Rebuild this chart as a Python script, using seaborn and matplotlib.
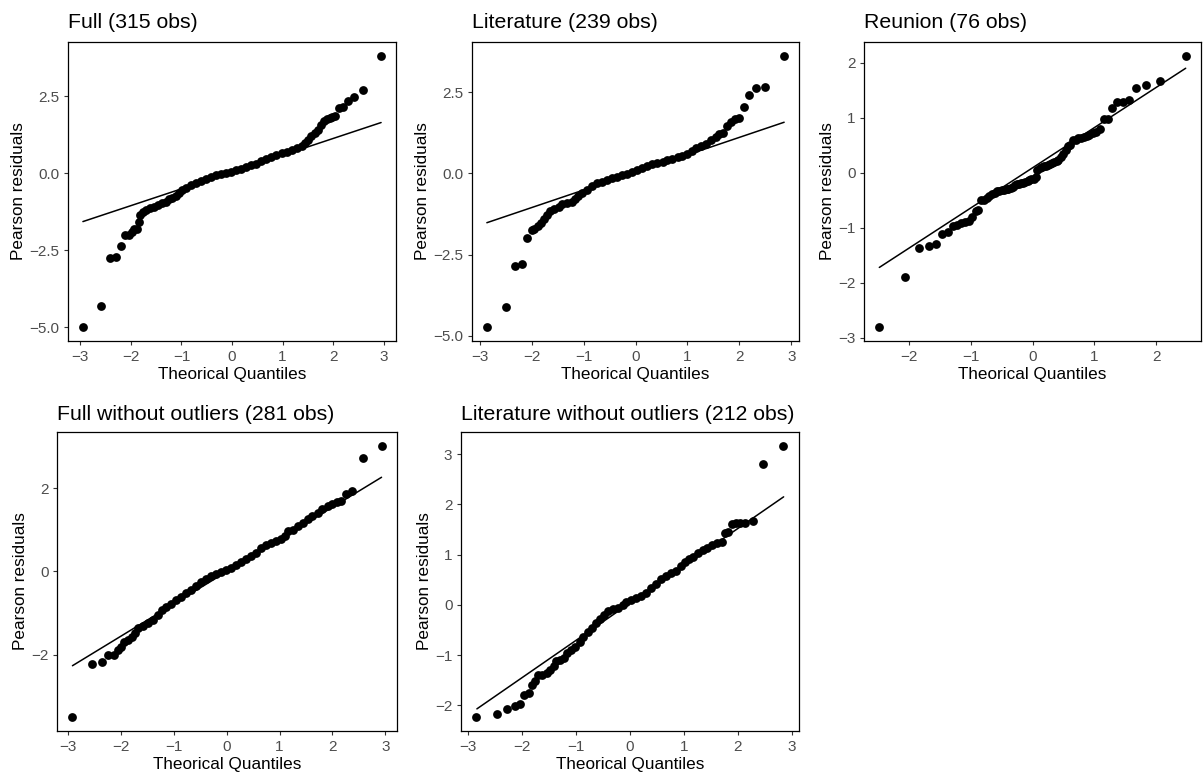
import matplotlib
matplotlib.use("Agg")
import matplotlib.pyplot as plt
import seaborn as sns

# ---------------- data ----------------
titles = ["Full (315 obs)", "Literature (239 obs)", "Reunion (76 obs)",
          "Full without outliers (281 obs)", "Literature without outliers (212 obs)"]
x_label = "Theorical Quantiles"
y_label = "Pearson residuals"

# Full (315 obs): theoretical quantile / Pearson residual
full_q = [-2.95, -2.59, -2.41, -2.29, -2.19, -2.11, -2.04, -1.98, -1.93, -1.88,
          -1.84, -1.82, -1.77, -1.71, -1.63, -1.54, -1.46, -1.38, -1.31, -1.24,
          -1.18, -1.11, -1.04, -0.98, -0.91, -0.81, -0.71, -0.61, -0.51, -0.41,
          -0.31, -0.22, -0.12, -0.02, 0.08, 0.18, 0.28, 0.38, 0.48, 0.58,
          0.68, 0.78, 0.88, 0.98, 1.08, 1.18, 1.28, 1.38, 1.44, 1.51,
          1.57, 1.64, 1.71, 1.76, 1.82, 1.88, 1.93, 1.98, 2.04, 2.11,
          2.19, 2.29, 2.41, 2.59, 2.95]
full_r = [-5.00, -4.32, -2.74, -2.73, -2.35, -2.02, -2.02, -1.92, -1.82, -1.82,
          -1.57, -1.36, -1.26, -1.20, -1.14, -1.09, -1.03, -0.98, -0.92, -0.84,
          -0.80, -0.74, -0.64, -0.55, -0.47, -0.39, -0.31, -0.26, -0.18, -0.12,
          -0.06, -0.03, 0.01, 0.05, 0.11, 0.15, 0.20, 0.25, 0.30, 0.38,
          0.46, 0.53, 0.59, 0.64, 0.68, 0.74, 0.83, 0.89, 0.98, 1.09,
          1.20, 1.30, 1.41, 1.55, 1.69, 1.77, 1.80, 1.82, 1.85, 2.12,
          2.14, 2.34, 2.46, 2.70, 3.81]
full_line_q = [-2.95, 2.95]
full_line_r = [-1.57, 1.64]

# Literature (239 obs)
lit_q = [-2.86, -2.50, -2.31, -2.18, -2.08, -2.00, -1.95, -1.88, -1.82, -1.77,
         -1.71, -1.65, -1.56, -1.48, -1.41, -1.32, -1.23, -1.16, -1.10, -1.02,
         -0.94, -0.84, -0.74, -0.65, -0.55, -0.45, -0.35, -0.26, -0.16, -0.06,
         0.03, 0.13, 0.23, 0.32, 0.42, 0.52, 0.61, 0.71, 0.81, 0.90,
         1.00, 1.08, 1.16, 1.26, 1.35, 1.45, 1.54, 1.61, 1.69, 1.76,
         1.84, 1.92, 2.00, 2.08, 2.18, 2.31, 2.50, 2.86]
lit_r = [-4.74, -4.11, -2.84, -2.80, -1.99, -1.73, -1.71, -1.63, -1.52, -1.40,
         -1.29, -1.17, -1.10, -1.03, -0.95, -0.90, -0.87, -0.79, -0.71, -0.60,
         -0.50, -0.40, -0.31, -0.27, -0.21, -0.16, -0.10, -0.05, -0.01, 0.05,
         0.11, 0.16, 0.21, 0.28, 0.32, 0.36, 0.40, 0.45, 0.50, 0.54,
         0.60, 0.69, 0.79, 0.84, 0.91, 1.01, 1.13, 1.22, 1.25, 1.45,
         1.57, 1.66, 1.71, 2.03, 2.40, 2.62, 2.64, 3.62]
lit_line_q = [-2.86, 2.86]
lit_line_r = [-1.52, 1.57]

# Reunion (76 obs)
reu_q = [-2.48, -2.06, -1.84, -1.68, -1.56, -1.46, -1.37, -1.29, -1.22, -1.15,
         -1.09, -1.03, -0.98, -0.92, -0.88, -0.83, -0.78, -0.74, -0.70, -0.65,
         -0.61, -0.57, -0.54, -0.50, -0.46, -0.42, -0.39, -0.35, -0.32, -0.28,
         -0.25, -0.22, -0.18, -0.15, -0.12, -0.08, -0.05, -0.02, 0.02, 0.05,
         0.08, 0.12, 0.15, 0.18, 0.22, 0.25, 0.28, 0.32, 0.35, 0.39,
         0.42, 0.46, 0.50, 0.54, 0.57, 0.61, 0.65, 0.70, 0.74, 0.78,
         0.83, 0.88, 0.92, 0.98, 1.03, 1.09, 1.15, 1.22, 1.29, 1.37,
         1.46, 1.56, 1.68, 1.84, 2.06, 2.48]
reu_r = [-2.81, -1.89, -1.37, -1.33, -1.29, -1.12, -1.07, -0.96, -0.94, -0.92,
         -0.90, -0.87, -0.80, -0.70, -0.68, -0.50, -0.49, -0.45, -0.42, -0.39,
         -0.36, -0.34, -0.33, -0.32, -0.31, -0.30, -0.29, -0.27, -0.25, -0.23,
         -0.21, -0.20, -0.19, -0.18, -0.16, -0.15, -0.13, -0.12, -0.11, -0.08,
         0.05, 0.08, 0.10, 0.12, 0.13, 0.15, 0.16, 0.18, 0.19, 0.21,
         0.24, 0.28, 0.34, 0.42, 0.48, 0.50, 0.59, 0.60, 0.63, 0.63,
         0.65, 0.66, 0.69, 0.72, 0.75, 0.80, 0.98, 0.98, 1.18, 1.28,
         1.28, 1.32, 1.54, 1.60, 1.66, 2.13]
reu_line_q = [-2.48, 2.48]
reu_line_r = [-1.72, 1.90]

# Full without outliers (281 obs)
fwo_q = [-2.92, -2.55, -2.36, -2.24, -2.14, -2.06, -2.00, -1.95, -1.87, -1.79,
         -1.73, -1.68, -1.59, -1.49, -1.40, -1.30, -1.23, -1.15, -1.05, -0.96,
         -0.86, -0.77, -0.67, -0.58, -0.48, -0.39, -0.30, -0.20, -0.11, -0.01,
         0.08, 0.18, 0.27, 0.37, 0.46, 0.55, 0.65, 0.74, 0.84, 0.93,
         1.03, 1.10, 1.16, 1.25, 1.34, 1.44, 1.53, 1.62, 1.72, 1.81,
         1.91, 2.00, 2.08, 2.16, 2.25, 2.38, 2.57, 2.93]
fwo_r = [-3.50, -2.21, -2.18, -2.00, -2.00, -1.89, -1.80, -1.68, -1.64, -1.56,
         -1.48, -1.36, -1.30, -1.24, -1.16, -1.04, -0.92, -0.85, -0.77, -0.68,
         -0.60, -0.52, -0.44, -0.34, -0.26, -0.18, -0.10, -0.06, -0.01, 0.04,
         0.09, 0.15, 0.22, 0.30, 0.38, 0.45, 0.56, 0.64, 0.69, 0.74,
         0.77, 0.85, 0.96, 1.00, 1.08, 1.17, 1.25, 1.33, 1.41, 1.49,
         1.56, 1.62, 1.67, 1.69, 1.85, 1.93, 2.72, 3.02]
fwo_line_q = [-2.92, 2.93]
fwo_line_r = [-2.26, 2.26]

# Literature without outliers (212 obs)
lwo_q = [-2.84, -2.46, -2.27, -2.13, -2.03, -1.95, -1.87, -1.81, -1.76, -1.70,
         -1.62, -1.54, -1.47, -1.41, -1.36, -1.29, -1.21, -1.16, -1.09, -1.01,
         -0.93, -0.86, -0.78, -0.70, -0.62, -0.55, -0.48, -0.40, -0.31, -0.21,
         -0.13, -0.06, 0.03, 0.12, 0.21, 0.31, 0.40, 0.49, 0.58, 0.67,
         0.77, 0.86, 0.95, 1.03, 1.10, 1.18, 1.26, 1.35, 1.44, 1.53,
         1.62, 1.70, 1.76, 1.82, 1.89, 1.96, 2.05, 2.14, 2.28, 2.47, 2.84]
lwo_r = [-2.24, -2.18, -2.07, -2.02, -1.98, -1.79, -1.75, -1.59, -1.52, -1.39,
         -1.39, -1.36, -1.30, -1.22, -1.12, -1.09, -1.06, -0.96, -0.89, -0.83,
         -0.73, -0.63, -0.55, -0.46, -0.36, -0.28, -0.20, -0.13, -0.09, -0.07,
         0.00, 0.05, 0.09, 0.13, 0.18, 0.24, 0.33, 0.42, 0.51, 0.58,
         0.63, 0.68, 0.77, 0.86, 0.91, 0.96, 1.03, 1.09, 1.14, 1.19,
         1.24, 1.26, 1.44, 1.46, 1.60, 1.62, 1.62, 1.63, 1.67, 2.81, 3.17]
lwo_line_q = [-2.83, 2.85]
lwo_line_r = [-2.07, 2.15]

x_ticks_wide = [-3, -2, -1, 0, 1, 2, 3]
x_ticks_reu = [-2, -1, 0, 1, 2]
y_ticks_full = [-5.0, -2.5, 0.0, 2.5]
y_ticks_reu = [-3, -2, -1, 0, 1, 2]
y_ticks_fwo = [-2, 0, 2]
y_ticks_lwo = [-2, -1, 0, 1, 2, 3]

# ---------------- styling ----------------
sns.set_theme(style="white")
plt.rcParams["font.family"] = ["Liberation Sans", "DejaVu Sans"]

W, H = 1203, 776
fig = plt.figure(figsize=(W / 100, H / 100), dpi=100)
fig.patch.set_facecolor("white")

def px_axes(left, right, top, bottom):
    return fig.add_axes([left / W, 1 - bottom / H, (right - left) / W, (bottom - top) / H])

panels = [
    (px_axes(68, 396, 42, 341), full_q, full_r, full_line_q, full_line_r, x_ticks_wide, y_ticks_full, titles[0], 10.4),
    (px_axes(472, 799, 42, 341), lit_q, lit_r, lit_line_q, lit_line_r, x_ticks_wide, y_ticks_full, titles[1], 10.4),
    (px_axes(864, 1201, 42, 341), reu_q, reu_r, reu_line_q, reu_line_r, x_ticks_reu, y_ticks_reu, titles[2], 10.4),
    (px_axes(57, 397, 432, 731), fwo_q, fwo_r, fwo_line_q, fwo_line_r, x_ticks_wide, y_ticks_fwo, titles[3], 9.0),
    (px_axes(461, 799, 432, 731), lwo_q, lwo_r, lwo_line_q, lwo_line_r, x_ticks_wide, y_ticks_lwo, titles[4], 9.0),
]

for ax, q, r, lq, lr, xt, yt, title, pad in panels:
    ax.set_facecolor("white")
    sns.lineplot(x=lq, y=lr, ax=ax, color="black", linewidth=1.1)
    sns.scatterplot(x=q, y=r, ax=ax, color="black", s=40, linewidth=0, zorder=3)
    ax.set_xticks(xt)
    ax.set_yticks(yt)
    ax.set_title(title, loc="left", fontsize=15.3, pad=pad, color="black")
    ax.set_xlabel(x_label, fontsize=12.3, labelpad=2.5, color="black")
    ax.set_ylabel(y_label, fontsize=12.3, labelpad=2.5, color="black")
    ax.tick_params(axis="both", which="major", direction="out", length=3.2, width=0.8,
                   color="#333333", labelsize=11, labelcolor="#4D4D4D", pad=3,
                   bottom=True, left=True, top=False, right=False)
    for sp in ax.spines.values():
        sp.set_visible(True)
        sp.set_color("black")
        sp.set_linewidth(0.9)
    ax.grid(False)

fig.savefig("out.png", dpi=100, facecolor="white")
